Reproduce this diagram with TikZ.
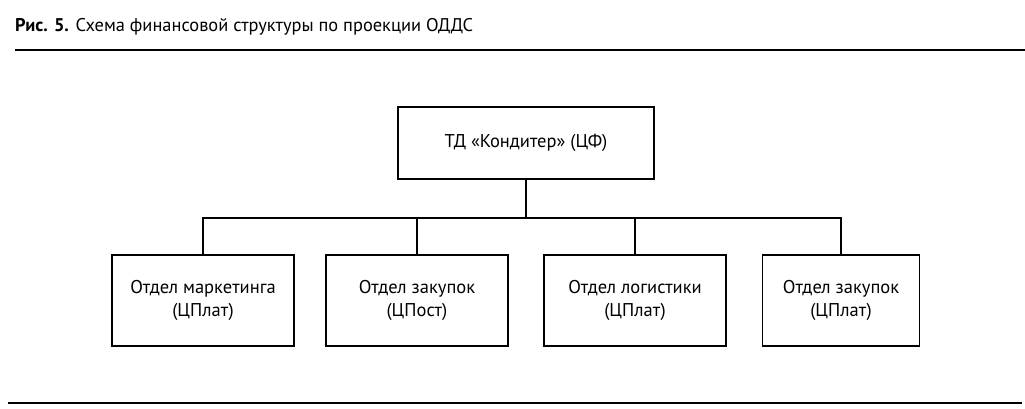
\documentclass[tikz,border=0pt]{standalone}
\usepackage{fontspec}
\setmainfont{PT Sans}
\begin{document}
\begin{tikzpicture}[x=1pt,y=-1pt,
  box/.style={draw,line width=1.6pt,align=center,inner sep=0pt,font=\fontsize{18.5}{23}\selectfont},
  conn/.style={line width=1.6pt},
  rule/.style={line width=1.6pt}]
\useasboundingbox (0,0) rectangle (1025,409);
\node[anchor=base west,inner sep=0pt,font=\fontsize{18.4}{20}\selectfont] (title) at (15,32)
  {\textbf{Рис. 5.} Схема финансовой структуры по проекции ОДДС};
\coordinate (r1a) at (15,50); \coordinate (r1b) at (1025,50);
\coordinate (r2a) at (8,403); \coordinate (r2b) at (1022,403);
\draw[rule] (r1a) -- (r1b);
\draw[rule] (r2a) -- (r2b);
\node[box,minimum width=256pt,minimum height=72pt] (top) at (526,143) {ТД «Кондитер» (ЦФ)};
\node[box,minimum width=182pt,minimum height=91pt] (b1) at (203,300.5) {Отдел маркетинга\\(ЦПлат)};
\node[box,minimum width=182pt,minimum height=91pt] (b2) at (417,300.5) {Отдел закупок\\(ЦПост)};
\node[box,minimum width=182pt,minimum height=91pt] (b3) at (635,300.5) {Отдел логистики\\(ЦПлат)};
\node[box,minimum width=157pt,minimum height=91pt] (b4) at (841,300.5) {Отдел закупок\\(ЦПлат)};
\draw[conn] (top.south) -- ++(0,38) coordinate (bus);
\draw[conn] (b1.north) |- (bus) -| (b4.north);
\draw[conn] (b2.north) -- (b2.north |- bus);
\draw[conn] (b3.north) -- (b3.north |- bus);
\end{tikzpicture}
\end{document}
